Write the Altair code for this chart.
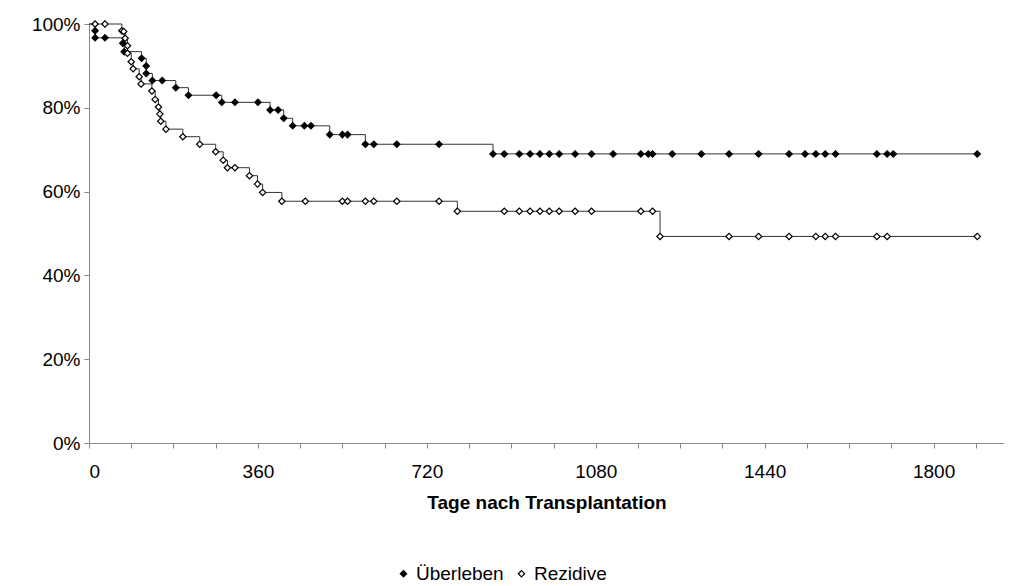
import altair as alt
import pandas as pd

# Überleben (survival) markers: day, percent
surv_t = [0, 13, 13, 34, 72, 75, 112, 122, 122, 135, 156, 185, 212, 271, 283, 311, 360, 386, 403, 415, 434, 459, 473, 513, 540, 551, 589, 607, 656, 746,
          861, 885, 917, 940, 961, 981, 1002, 1036, 1071, 1117, 1176, 1192, 1201, 1243, 1305, 1364, 1427, 1492, 1526, 1549, 1569, 1591, 1679, 1701, 1714, 1893]
surv_v = [100, 98.4, 96.7, 96.7, 95.4, 93.4, 91.8, 90.0, 88.2, 86.5, 86.5, 84.8, 83.0, 83.0, 81.3, 81.3, 81.3, 79.5, 79.5, 77.5, 75.7, 75.7, 75.7, 73.6, 73.6, 73.6, 71.3, 71.3, 71.3, 71.3,
          69.0, 69.0, 69.0, 69.0, 69.0, 69.0, 69.0, 69.0, 69.0, 69.0, 69.0, 69.0, 69.0, 69.0, 69.0, 69.0, 69.0, 69.0, 69.0, 69.0, 69.0, 69.0, 69.0, 69.0, 69.0, 69.0]

# Rezidive (relapse-free) markers
rez_t = [0, 13, 34, 70, 74, 77, 82, 82, 90, 94, 107, 111, 134, 141, 148, 151, 153, 164, 200, 236, 270, 286, 295, 311, 342, 359, 370, 411, 461, 540, 551, 589, 607, 656, 746,
         785, 885, 917, 940, 961, 981, 1002, 1036, 1071, 1176, 1201,
         1217, 1364, 1427, 1492, 1549, 1569, 1591, 1679, 1701, 1893]
rez_v = [100, 100, 100, 98.4, 98.2, 96.6, 94.8, 93.0, 91.0, 89.3, 87.4, 85.7, 84.0, 82.0, 80.2, 78.5, 76.8, 74.9, 73.1, 71.3, 69.5, 67.5, 65.7, 65.7, 63.8, 61.8, 59.8, 57.7, 57.7, 57.7, 57.7, 57.7, 57.7, 57.7, 57.7,
         55.3, 55.3, 55.3, 55.3, 55.3, 55.3, 55.3, 55.3, 55.3, 55.3, 55.3,
         49.3, 49.3, 49.3, 49.3, 49.3, 49.3, 49.3, 49.3, 49.3, 49.3]

rows = []
for i, (t, v) in enumerate(zip(surv_t, surv_v)):
    rows.append({"t": t, "v": v / 100, "s": "Überleben", "o": i, "mk": i > 0})
for i, (t, v) in enumerate(zip(rez_t, rez_v)):
    rows.append({"t": t, "v": v / 100, "s": "Rezidive", "o": i, "mk": i > 0})
df = pd.DataFrame(rows)

F = "Liberation Sans"
xs = alt.Scale(domain=[0, 1950], nice=False)
ys = alt.Scale(domain=[0, 1], nice=False)

lines = alt.Chart(df).mark_line(interpolate="step-after", color="#333", strokeWidth=1).encode(
    x=alt.X("t:Q", scale=xs, title="Tage nach Transplantation",
            axis=alt.Axis(values=list(range(0, 1951, 90)),
                          labelExpr="datum.value % 360 == 0 ? datum.value : ''",
                          grid=False, tickSize=5, labelFontSize=19, labelFont=F, labelColor="black",
                          titleFont=F, titleFontSize=19, titleFontWeight="bold", titleColor="black",
                          titlePadding=12, labelPadding=14, domainColor="#888", tickColor="#888")),
    y=alt.Y("v:Q", scale=ys, title=None,
            axis=alt.Axis(values=[0, 0.2, 0.4, 0.6, 0.8, 1.0], format=".0%", grid=False, tickSize=5,
                          labelFontSize=19, labelFont=F, labelColor="black", labelPadding=4,
                          domainColor="#888", tickColor="#888")),
    detail="s:N", order="o:Q")

pts = alt.Chart(df).transform_filter("datum.mk").mark_point(shape="diamond", size=40, stroke="black",
                                                             strokeWidth=1.2, opacity=1, filled=False).encode(
    x=alt.X("t:Q", scale=xs),
    y=alt.Y("v:Q", scale=ys),
    fill=alt.Fill("s:N", scale=alt.Scale(domain=["Überleben", "Rezidive"], range=["black", "white"]),
                  legend=alt.Legend(orient="none", legendX=305, legendY=540, direction="horizontal", title=None,
                                    symbolType="diamond",
                                    symbolStrokeColor="black", symbolSize=40, symbolStrokeWidth=1.2,
                                    labelFont=F, labelFontSize=19, labelColor="black",
                                    columnPadding=8, labelOffset=3)))

chart = (lines + pts).properties(width=915, height=419, padding={"left": 23, "top": 7, "right": 0, "bottom": 0}).configure_view(stroke=None)
chart.save("out.html", embed_options={"renderer": "svg", "actions": False})
